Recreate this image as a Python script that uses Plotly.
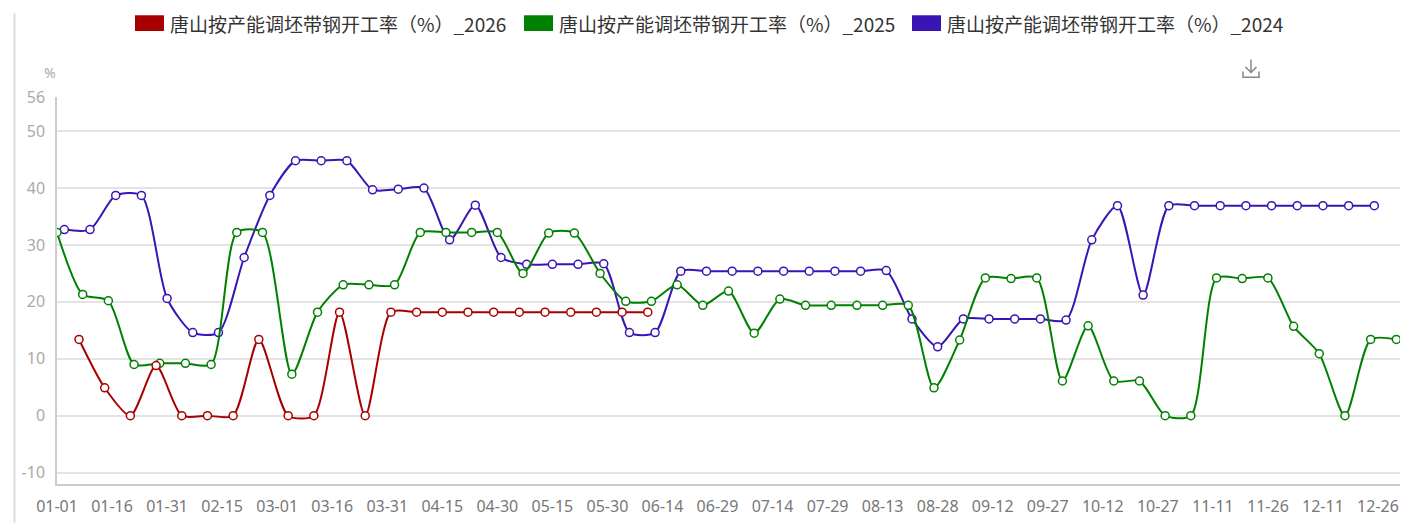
import plotly.graph_objects as go

# ---------------- data ----------------
series_names = [
    "唐山按产能调坯带钢开工率（%）_2026",
    "唐山按产能调坯带钢开工率（%）_2025",
    "唐山按产能调坯带钢开工率（%）_2024",
]
series_colors = ["#A80000", "#008000", "#3A14B4"]

dates_2026 = ["01-07", "01-14", "01-21", "01-28", "02-04", "02-11", "02-18", "02-25",
              "03-04", "03-11", "03-18", "03-25", "04-01", "04-08", "04-15", "04-22",
              "04-29", "05-06", "05-13", "05-20", "05-27", "06-03", "06-10"]
vals_2026 = [13.4, 4.9, 0, 8.8, 0, 0, 0, 13.4, 0, 0, 18.2, 0, 18.2, 18.2, 18.2, 18.2,
             18.2, 18.2, 18.2, 18.2, 18.2, 18.2, 18.2]

dates_2025 = ["01-01", "01-08", "01-15", "01-22", "01-29", "02-05", "02-12", "02-19", "02-26",
              "03-05", "03-12", "03-19", "03-26", "04-02", "04-09", "04-16", "04-23", "04-30",
              "05-07", "05-14", "05-21", "05-28", "06-04", "06-11", "06-18", "06-25",
              "07-02", "07-09", "07-16", "07-23", "07-30", "08-06", "08-13", "08-20", "08-27",
              "09-03", "09-10", "09-17", "09-24", "10-01", "10-08", "10-15", "10-22", "10-29",
              "11-05", "11-12", "11-19", "11-26", "12-03", "12-10", "12-17", "12-24", "12-31"]
vals_2025 = [32.2, 21.3, 20.2, 9.0, 9.2, 9.2, 9.0, 32.2, 32.2,
             7.3, 18.2, 23.0, 23.0, 23.0, 32.2, 32.2, 32.2, 32.2,
             25.0, 32.1, 32.1, 25.0, 20.1, 20.1, 23.0, 19.4,
             21.9, 14.5, 20.5, 19.4, 19.4, 19.4, 19.4, 19.4, 4.9,
             13.3, 24.2, 24.1, 24.2, 6.1, 15.8, 6.1, 6.1, 0,
             0, 24.2, 24.1, 24.2, 15.7, 10.9, 0, 13.4, 13.4]

dates_2024 = ["01-03", "01-10", "01-17", "01-24", "01-31", "02-07", "02-14", "02-21", "02-28",
              "03-06", "03-13", "03-20", "03-27", "04-03", "04-10", "04-17", "04-24",
              "05-01", "05-08", "05-15", "05-22", "05-29", "06-05", "06-12", "06-19", "06-26",
              "07-03", "07-10", "07-17", "07-24", "07-31", "08-07", "08-14", "08-21", "08-28",
              "09-04", "09-11", "09-18", "09-25", "10-02", "10-09", "10-16", "10-23", "10-30",
              "11-06", "11-13", "11-20", "11-27", "12-04", "12-11", "12-18", "12-25"]
vals_2024 = [32.7, 32.7, 38.7, 38.7, 20.6, 14.6, 14.6, 27.8, 38.7,
             44.8, 44.8, 44.8, 39.7, 39.8, 40.0, 30.9, 37.0,
             27.8, 26.6, 26.6, 26.6, 26.7, 14.6, 14.6, 25.4, 25.4,
             25.4, 25.4, 25.4, 25.4, 25.4, 25.4, 25.5, 17.0, 12.1,
             17.0, 17.0, 17.0, 17.0, 16.8, 30.9, 36.9, 21.2, 36.9,
             36.9, 36.9, 36.9, 36.9, 36.9, 36.9, 36.9, 36.9]

y_ticks = [-10, 0, 10, 20, 30, 40, 50, 56]

# ---------------- figure ----------------
W, H = 1414, 529
L, R, T, B = 57, 1400, 97, 490  # plot area in page pixels


def pxx(x):
    return (x - L) / (R - L)


def pyy(y):
    return (B - y) / (B - T)


fig = go.Figure()
all_series = [(dates_2026, vals_2026), (dates_2025, vals_2025), (dates_2024, vals_2024)]
for idx in [2, 1, 0]:
    d, v = all_series[idx]
    fig.add_trace(go.Scatter(
        x=["2024-" + s for s in d], y=v, name=series_names[idx],
        mode="lines+markers",
        line=dict(color=series_colors[idx], width=2, shape="spline", smoothing=0.7),
        marker=dict(symbol="circle", size=8, color="white",
                    line=dict(color=series_colors[idx], width=1.5)),
        showlegend=False,
    ))

shapes = []
annotations = []
legend_x = [135, 524, 912]
for i in range(3):
    x0 = legend_x[i]
    shapes.append(dict(type="rect", xref="paper", yref="paper",
                       x0=pxx(x0), x1=pxx(x0 + 29), y0=pyy(30), y1=pyy(14),
                       fillcolor=series_colors[i], line=dict(width=0)))
    annotations.append(dict(xref="paper", yref="paper", x=pxx(x0 + 33), y=pyy(22),
                            text=series_names[i], showarrow=False,
                            xanchor="left", yanchor="middle",
                            font=dict(size=19, color="#333333",
                                      family="Noto Sans CJK SC")))

annotations.append(dict(xref="paper", yref="paper", x=pxx(50), y=pyy(72), text="%",
                        showarrow=False, xanchor="center", yanchor="middle",
                        font=dict(size=14, color="#aaaaaa", family="Noto Sans")))

shapes.append(dict(type="line", xref="paper", yref="paper",
                   x0=pxx(14.5), x1=pxx(14.5), y0=pyy(12), y1=pyy(529),
                   line=dict(color="#dddddd", width=2)))

icon_col = "#888888"
shapes.append(dict(type="path", xref="paper", yref="paper",
                   path=f"M {pxx(1251)} {pyy(59)} L {pxx(1251)} {pyy(72)}",
                   line=dict(color=icon_col, width=1.5)))
shapes.append(dict(type="path", xref="paper", yref="paper",
                   path=f"M {pxx(1245.5)} {pyy(66.5)} L {pxx(1251)} {pyy(72)} L {pxx(1256.5)} {pyy(66.5)}",
                   line=dict(color=icon_col, width=1.5)))
shapes.append(dict(type="path", xref="paper", yref="paper",
                   path=f"M {pxx(1243)} {pyy(71)} L {pxx(1243)} {pyy(77)} L {pxx(1259)} {pyy(77)} L {pxx(1259)} {pyy(71)}",
                   line=dict(color=icon_col, width=1.5)))

fig.update_layout(
    width=W, height=H,
    margin=dict(l=L, r=W - R, t=T, b=H - B, pad=0),
    paper_bgcolor="white", plot_bgcolor="white",
    shapes=shapes, annotations=annotations,
    showlegend=False,
    xaxis=dict(
        type="date", range=["2024-01-01", "2025-01-01"],
        tick0="2024-01-01", dtick=15 * 86400000, tickformat="%m-%d",
        showgrid=False, zeroline=False,
        showline=True, linecolor="#cccccc", linewidth=1.5,
        ticks="", tickfont=dict(size=16, color="#777777", family="Noto Sans"),
        ticklabelstandoff=7,
    ),
    yaxis=dict(
        range=[-12, 56], tickvals=y_ticks, ticktext=[str(t) for t in y_ticks],
        showgrid=True, gridcolor="#e3e3e3", gridwidth=1.5, zeroline=False,
        showline=True, linecolor="#cccccc", linewidth=1.5,
        ticks="", tickfont=dict(size=16, color="#aaaaaa", family="Noto Sans"),
        ticklabelstandoff=7,
    ),
)

fig.write_html(
    "out.html",
    config={"displayModeBar": False},
    post_script="document.body.style.margin='0px';document.body.style.overflow='hidden';",
)
